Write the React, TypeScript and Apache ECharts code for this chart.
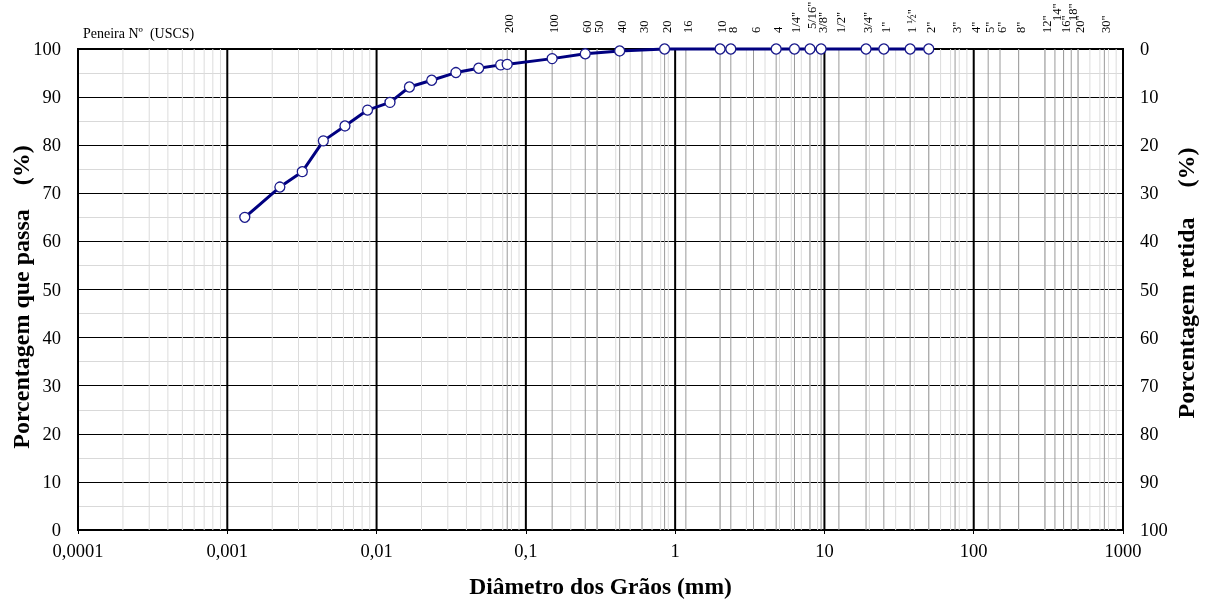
import React, { useEffect, useRef } from "react";
import * as echarts from "echarts";

// Sieve sizes (mm) and their USCS names
const sieveSizes = [0.075, 0.15, 0.25, 0.3, 0.425, 0.6, 0.85, 1.18, 2.0, 2.36, 3.35, 4.75, 6.3, 8.0, 9.5, 12.5, 19, 25, 37.5, 50, 75, 100, 125, 150, 200, 300, 350, 400, 450, 500, 750];
const sieveNames = ["200", "100", "60", "50", "40", "30", "20", "16", "10", "8", "6", "4", "1/4\"", "5/16\"", "3/8\"", "1/2\"", "3/4\"", "1\"", "1 ½\"", "2\"", "3\"", "4\"", "5\"", "6\"", "8\"", "12\"", "14\"", "16\"", "18\"", "20\"", "30\""];
const raisedNames = ["5/16\"", "14\"", "18\""];

// Grain size curve
const diameters = [0.00131, 0.00225, 0.00318, 0.0044, 0.00614, 0.0087, 0.0123, 0.0166, 0.0234, 0.034, 0.0483, 0.0678, 0.075, 0.15, 0.25, 0.425, 0.85, 2.0, 2.36, 4.75, 6.3, 8.0, 9.5, 19, 25, 37.5, 50];
const passing = [65.0, 71.3, 74.5, 80.9, 84.0, 87.3, 88.9, 92.1, 93.5, 95.1, 96.0, 96.7, 96.8, 98.0, 99.0, 99.6, 100, 100, 100, 100, 100, 100, 100, 100, 100, 100, 100];

const decades = [0.0001, 0.001, 0.01, 0.1, 1, 10, 100, 1000];
const majorDecades = [0.001, 0.01, 0.1, 1, 10, 100];
const minorMultipliers = [2, 3, 4, 5, 6, 7, 8, 9];
const xLabels: Record<string, string> = { "0.0001": "0,0001", "0.001": "0,001", "0.01": "0,01", "0.1": "0,1", "1": "1", "10": "10", "100": "100", "1000": "1000" };

const FONT = "'Liberation Serif', 'Times New Roman', serif";

export default function App() {
  const ref = useRef<HTMLDivElement>(null);
  useEffect(() => {
    if (!ref.current) return;
    const chart = echarts.init(ref.current, undefined, { renderer: "svg" });

    const lineData: number[][] = [];
    decades.slice(0, 7).forEach((d) => minorMultipliers.forEach((m) => lineData.push([d * m, 0])));
    sieveSizes.forEach((s) => lineData.push([s, 1]));
    majorDecades.forEach((d) => lineData.push([d, 2]));

    const labelData = sieveSizes.map((s, i) => [s, i]);

    const fmt = (v: number) => {
      const key = String(Number(v.toPrecision(6)));
      return xLabels[key] ?? key.replace(".", ",");
    };

    chart.setOption({
      animation: false,
      grid: { left: 78, right: 82, top: 49, bottom: 66, show: true, borderColor: "#000", borderWidth: 2 },
      graphic: [
        { type: "text", left: 83, top: 26, style: { text: "Peneira Nº  (USCS)", font: `14px ${FONT}`, fill: "#000" } },
        {
          type: "text",
          x: 21,
          y: 297,
          rotation: Math.PI / 2,
          style: { text: "Porcentagem que passa    (%)", font: `bold 24px ${FONT}`, fill: "#000", align: "center", verticalAlign: "middle" },
        },
        {
          type: "text",
          x: 1186,
          y: 283,
          rotation: Math.PI / 2,
          style: { text: "Porcentagem retida     (%)", font: `bold 24px ${FONT}`, fill: "#000", align: "center", verticalAlign: "middle" },
        },
      ],
      xAxis: {
        type: "log",
        logBase: 10,
        min: 0.0001,
        max: 1000,
        axisLine: { show: true, lineStyle: { color: "#000", width: 2 } },
        axisTick: { show: true, length: 4, lineStyle: { color: "#000" } },
        axisLabel: { formatter: fmt, fontSize: 18.5, color: "#000", fontFamily: FONT, margin: 11 },
        splitLine: { show: false },
        name: "Diâmetro dos Grãos (mm)",
        nameLocation: "middle",
        nameGap: 44,
        nameTextStyle: { fontWeight: "bold", fontSize: 23.5, fontFamily: FONT, color: "#000" },
      },
      yAxis: [
        {
          type: "value",
          min: 0,
          max: 100,
          interval: 10,
          axisLine: { show: true, lineStyle: { color: "#000", width: 2 } },
          axisTick: { show: false },
          axisLabel: { fontSize: 18.5, color: "#000", fontFamily: FONT, margin: 17 },
          splitLine: { show: true, lineStyle: { color: "#000", width: 1 } },
          minorTick: { show: false, splitNumber: 2 },
          minorSplitLine: { show: true, lineStyle: { color: "#d9d9d9", width: 1 } },
        },
        {
          type: "value",
          position: "right",
          inverse: true,
          min: 0,
          max: 100,
          interval: 10,
          axisLine: { show: true, lineStyle: { color: "#000", width: 2 } },
          axisTick: { show: false },
          axisLabel: { fontSize: 18.5, color: "#000", fontFamily: FONT, margin: 17 },
          splitLine: { show: false },
        },
      ],
      series: [
        {
          type: "custom",
          silent: true,
          clip: false,
          z: 1,
          data: lineData,
          encode: { x: 0 },
          renderItem: (_p: any, api: any) => {
            const v = api.value(0);
            const k = api.value(1);
            const a = api.coord([v, 0]);
            const b = api.coord([v, 100]);
            const color = k === 2 ? "#000" : k === 1 ? "#9a9a9a" : "#dcdcdc";
            const w = k === 2 ? 2 : 1;
            return { type: "line", shape: { x1: a[0], y1: a[1], x2: b[0], y2: b[1] }, style: { stroke: color, lineWidth: w } };
          },
        },
        {
          type: "custom",
          silent: true,
          clip: false,
          z: 3,
          data: labelData,
          encode: { x: 0 },
          renderItem: (_p: any, api: any) => {
            const v = api.value(0);
            const i = api.value(1);
            const name = sieveNames[i];
            const b = api.coord([v, 100]);
            const raised = name === "5/16\"" ? 4 : raisedNames.includes(name) ? 12 : 0;
            return {
              type: "text",
              x: b[0] + 2,
              y: b[1] - 16 - raised,
              rotation: Math.PI / 2,
              style: { text: name, font: `12.5px ${FONT}`, fill: "#000", align: "left", verticalAlign: "middle" },
            };
          },
        },
        {
          type: "line",
          z: 5,
          data: diameters.map((d, i) => [d, passing[i]]),
          symbol: "circle",
          symbolSize: 10,
          showAllSymbol: true,
          lineStyle: { color: "#000080", width: 3 },
          itemStyle: { color: "#fff", borderColor: "#1a1a8c", borderWidth: 1.3 },
          clip: false,
        },
      ],
    });
    return () => chart.dispose();
  }, []);
  return <div ref={ref} style={{ position: "fixed", left: 0, top: 0, width: 1205, height: 603 }} />;
}
